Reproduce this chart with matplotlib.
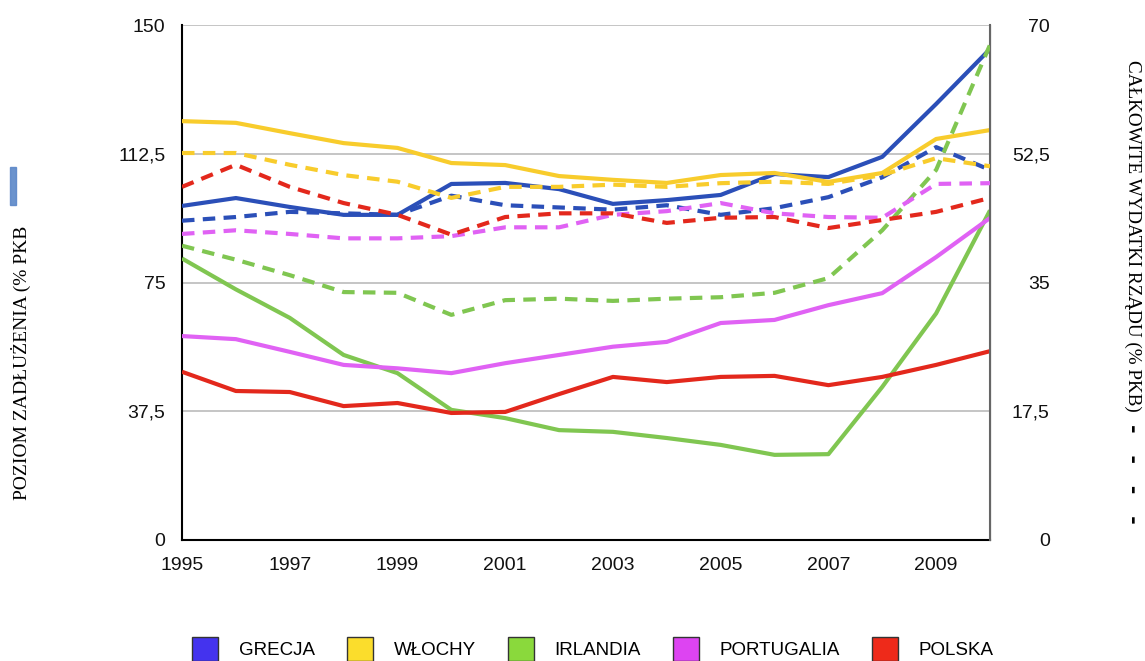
import numpy as np
import matplotlib
matplotlib.use("Agg")
import matplotlib.pyplot as plt
from matplotlib.patches import Patch

# lata i dane
years = list(range(1995, 2011))

# poziom zadluzenia (% PKB) - lewa os, linie ciagle
debt_grecja = [97.3, 99.6, 97.0, 94.7, 94.7, 103.7, 104.0, 102.2, 97.9, 99.0, 100.5, 106.6, 105.7, 111.6, 127.0, 143.0]
debt_wlochy = [122.0, 121.5, 118.5, 115.6, 114.2, 109.8, 109.2, 106.0, 104.9, 104.0, 106.3, 106.9, 104.3, 106.9, 116.8, 119.4]
debt_irlandia = [82.0, 73.0, 64.7, 53.9, 48.6, 37.9, 35.5, 32.0, 31.5, 29.7, 27.7, 24.8, 25.0, 44.6, 66.0, 96.0]
debt_portugalia = [59.4, 58.5, 54.8, 51.0, 50.0, 48.6, 51.5, 53.9, 56.3, 57.7, 63.2, 64.1, 68.4, 71.9, 82.4, 93.8]
debt_polska = [49.0, 43.4, 43.1, 39.0, 39.9, 37.0, 37.3, 42.5, 47.5, 46.0, 47.5, 47.8, 45.1, 47.5, 51.0, 55.0]

# calkowite wydatki rzadu (% PKB) - prawa os, linie przerywane
exp_grecja = [43.4, 43.9, 44.6, 44.4, 44.2, 46.8, 45.5, 45.2, 44.9, 45.5, 44.2, 45.1, 46.6, 49.3, 53.4, 50.3]
exp_wlochy = [52.6, 52.6, 51.0, 49.6, 48.7, 46.5, 48.0, 48.0, 48.3, 48.0, 48.5, 48.7, 48.4, 49.6, 51.9, 50.8]
exp_irlandia = [40.0, 38.1, 36.0, 33.7, 33.6, 30.6, 32.6, 32.8, 32.5, 32.8, 33.0, 33.6, 35.6, 42.1, 50.3, 67.3]
exp_portugalia = [41.6, 42.1, 41.6, 41.0, 41.0, 41.3, 42.5, 42.5, 44.2, 44.7, 45.8, 44.4, 43.9, 43.8, 48.4, 48.5]
exp_polska = [48.0, 51.0, 48.0, 45.8, 44.2, 41.5, 43.9, 44.4, 44.4, 43.1, 43.8, 43.9, 42.4, 43.5, 44.6, 46.5]

names = ["GRECJA", "WŁOCHY", "IRLANDIA", "PORTUGALIA", "POLSKA"]
line_colors = ["#2b4fb8", "#f8cc2c", "#80c651", "#e062f4", "#e3281c"]
legend_colors = ["#4433ee", "#fbdd2c", "#8ad93c", "#dd44f2", "#ee2a1a"]

debts = [debt_grecja, debt_wlochy, debt_irlandia, debt_portugalia, debt_polska]
exps = [exp_grecja, exp_wlochy, exp_irlandia, exp_portugalia, exp_polska]

left_ticks = [0, 37.5, 75, 112.5, 150]
left_labels = ["0", "37,5", "75", "112,5", "150"]
right_ticks = [0, 17.5, 35, 52.5, 70]
right_labels = ["0", "17,5", "35", "52,5", "70"]
x_ticks = [1995, 1997, 1999, 2001, 2003, 2005, 2007, 2009]

plt.rcParams['font.family'] = ['Liberation Sans', 'DejaVu Sans']

fig = plt.figure(figsize=(11.45, 6.61), dpi=100)
ax = fig.add_axes([182/1145, 1 - 540/661, 808/1145, 515/661])
ax2 = ax.twinx()

for d, c in zip(debts, line_colors):
    ax.plot(years, d, color=c, lw=3, solid_capstyle='butt', zorder=3)
for e, c in zip(exps, line_colors):
    ax2.plot(years, e, color=c, lw=3, linestyle=(0, (3.0, 2.0)), dash_capstyle='butt', zorder=3)

ax.set_xlim(1995, 2010)
ax.set_ylim(0, 150)
ax2.set_ylim(0, 70)

ax.set_yticks(left_ticks)
ax.set_yticklabels(left_labels)
ax2.set_yticks(right_ticks)
ax2.set_yticklabels(right_labels)
ax.set_xticks(x_ticks)
ax.set_xticklabels([str(x) for x in x_ticks])

ax.grid(axis='y', color='#bbbbbb', lw=1.2)
ax.set_axisbelow(True)
ax.tick_params(axis='x', length=0, labelsize=14, pad=12, labelcolor='#111111')
ax.tick_params(axis='y', length=0, labelsize=14, pad=12, labelcolor='#111111')
ax2.tick_params(axis='y', length=0, labelsize=14, pad=43, labelcolor='#111111')
for lab in ax2.get_yticklabels():
    lab.set_horizontalalignment('right')

ax.spines['top'].set_visible(False)
ax2.spines['top'].set_visible(False)
ax.spines['left'].set_color('black')
ax.spines['left'].set_linewidth(1.5)
ax.spines['bottom'].set_color('black')
ax.spines['bottom'].set_linewidth(1.5)
ax2.spines['right'].set_color('#666666')
ax2.spines['right'].set_linewidth(1.5)
ax2.spines['left'].set_visible(False)
ax2.spines['bottom'].set_visible(False)

# podpisy osi
fig.text(21/1145, 1 - 363/661, "POZIOM ZADŁUŻENIA (% PKB", rotation=90,
         family=['Liberation Serif', 'DejaVu Serif'], fontsize=14,
         ha='center', va='center')
fig.patches.append(plt.Rectangle((10/1145, 1 - 205/661), 6/1145, 38/661,
                                 transform=fig.transFigure, color='#5b87c8', alpha=0.9))
fig.text(1133/1145, 1 - 60/661, "CAŁKOWITE WYDATKI RZĄDU (% PKB)", rotation=270,
         family=['Liberation Serif', 'DejaVu Serif'], fontsize=13.8,
         ha='center', va='top')
fig.text(1132/1145, 1 - 424/661, "-   -   -   -", rotation=270, fontsize=15,
         fontweight='bold', family=['DejaVu Sans'], ha='center', va='top')

handles = [Patch(facecolor=c, edgecolor='#333333', lw=1) for c in legend_colors]
fig.legend(handles, names, loc='center', bbox_to_anchor=(593/1145, 1 - 649/661),
           ncol=5, frameon=False, fontsize=13.5, handlelength=1.4, handleheight=1.6,
           columnspacing=1.7, handletextpad=1.1)

fig.savefig("out.png", dpi=100)
